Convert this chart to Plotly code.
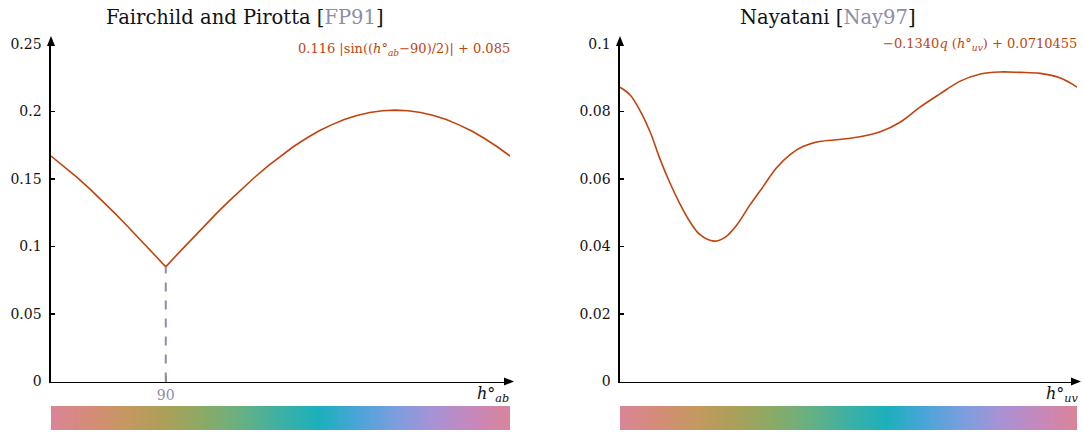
import plotly.graph_objects as go

# ---------------- data ----------------
fp_hue = [0, 10, 20, 30, 40, 50, 60, 70, 80, 90, 100, 110, 120, 130, 140, 150, 160, 170, 180,
          190, 200, 210, 220, 230, 240, 250, 260, 270, 280, 290, 300, 310, 320, 330, 340, 350, 360]
fp_val = [0.1670, 0.1596, 0.1515, 0.1430, 0.1340, 0.1247, 0.1150, 0.1051, 0.0951, 0.0850,
          0.0951, 0.1051, 0.1150, 0.1247, 0.1340, 0.1430, 0.1515, 0.1596, 0.1670,
          0.1739, 0.1800, 0.1855, 0.1901, 0.1940, 0.1970, 0.1992, 0.2006, 0.2010,
          0.2006, 0.1992, 0.1970, 0.1940, 0.1901, 0.1855, 0.1800, 0.1739, 0.1670]

ny_hue = [0, 8, 16, 24, 31, 39, 47, 55, 63, 74, 83, 92, 102, 113, 123, 134, 144, 157, 173,
          189, 205, 221, 236, 252, 268, 284, 299, 315, 331, 347, 360]
ny_val = [0.0872, 0.0849, 0.0801, 0.0737, 0.0664, 0.0591, 0.0528, 0.0474, 0.0435, 0.0416,
          0.0428, 0.0464, 0.0521, 0.0579, 0.0632, 0.0672, 0.0696, 0.0711, 0.0717,
          0.0725, 0.0740, 0.0769, 0.0812, 0.0852, 0.0890, 0.0911, 0.0917, 0.0916,
          0.0913, 0.0899, 0.0872]

fp_yticks = [0, 0.05, 0.1, 0.15, 0.2, 0.25]
fp_yticklabels = ["0", "0.05", "0.1", "0.15", "0.2", "0.25"]
ny_yticks = [0, 0.02, 0.04, 0.06, 0.08, 0.1]
ny_yticklabels = ["0", "0.02", "0.04", "0.06", "0.08", "0.1"]

marker_hue = 90
bar_hues = list(range(0, 361, 2))

# colour strip (hue -> colour)
strip_stops = [0, 30, 60, 90, 120, 150, 180, 210, 240, 270, 300, 330, 360]
strip_colors = ["#da8498", "#d48c78", "#c49860", "#aaa05a", "#8aaa66", "#66b084", "#3cb0a4",
                "#1cb0bc", "#4aa4d8", "#7c9ede", "#a892d4", "#c688bc", "#da8498"]

# ---------------- style ----------------
W, H = 1083, 432
LINE = "#c1440e"
GREY = "#8c8cab"
FONT = "DejaVu Serif"


def px(x):
    return x / W


def py(y):
    return 1 - y / H


colorscale = [[s / 360, c] for s, c in zip(strip_stops, strip_colors)]

fig = go.Figure()

fig.add_trace(go.Scatter(x=fp_hue, y=fp_val, mode="lines", line=dict(color=LINE, width=1.6),
                         xaxis="x", yaxis="y", showlegend=False, hoverinfo="skip"))
fig.add_trace(go.Scatter(x=[marker_hue, marker_hue], y=[0, min(fp_val)], mode="lines",
                         line=dict(color=GREY, width=2, dash="dash"),
                         xaxis="x", yaxis="y", showlegend=False, hoverinfo="skip"))
fig.add_trace(go.Scatter(x=ny_hue, y=ny_val, mode="lines",
                         line=dict(color=LINE, width=1.6, shape="spline", smoothing=1.0),
                         xaxis="x2", yaxis="y2", showlegend=False, hoverinfo="skip"))

fig.add_trace(go.Heatmap(z=[bar_hues], x=bar_hues, y=[0], colorscale=colorscale, zmin=0, zmax=360,
                         showscale=False, xaxis="x3", yaxis="y3", hoverinfo="skip"))
fig.add_trace(go.Heatmap(z=[bar_hues], x=bar_hues, y=[0], colorscale=colorscale, zmin=0, zmax=360,
                         showscale=False, xaxis="x4", yaxis="y4", hoverinfo="skip"))

L0, L1 = 51, 510
R0, R1 = 620, 1077
YT, YB = 44, 381.5
BT, BB = 406, 430

tickfont = dict(family=FONT, size=14, color="#111")
common_y = dict(showgrid=False, zeroline=False, showline=True, linecolor="black", linewidth=1.6,
                ticks="inside", ticklen=4, tickwidth=1.2, tickcolor="black", tickfont=tickfont,
                ticklabelstandoff=5, automargin=False)

fig.update_layout(
    template="none",
    width=W, height=H, margin=dict(l=0, r=0, t=0, b=0, pad=0, autoexpand=False),
    paper_bgcolor="white", plot_bgcolor="white",
    xaxis=dict(domain=[px(L0), px(L1)], range=[0, 360], anchor="y", showgrid=False, zeroline=False,
               showline=True, linecolor="black", linewidth=1.6, automargin=False,
               tickvals=[marker_hue], ticktext=[str(marker_hue)], ticks="inside", ticklen=6,
               tickwidth=2, tickcolor=GREY, tickfont=dict(family=FONT, size=14, color=GREY)),
    yaxis=dict(domain=[py(YB), py(YT)], range=[0, 0.25], anchor="x",
               tickvals=fp_yticks, ticktext=fp_yticklabels, **common_y),
    xaxis2=dict(domain=[px(R0), px(R1)], range=[0, 360], anchor="y2", showgrid=False, zeroline=False,
                showline=True, linecolor="black", linewidth=1.6, showticklabels=False, ticks="",
                automargin=False),
    yaxis2=dict(domain=[py(YB), py(YT)], range=[0, 0.1], anchor="x2",
                tickvals=ny_yticks, ticktext=ny_yticklabels, **common_y),
    xaxis3=dict(domain=[px(L0), px(L1)], range=[0, 360], anchor="y3", visible=False, automargin=False),
    yaxis3=dict(domain=[py(BB), py(BT)], range=[-0.5, 0.5], anchor="x3", visible=False, automargin=False),
    xaxis4=dict(domain=[px(R0), px(R1)], range=[0, 360], anchor="y4", visible=False, automargin=False),
    yaxis4=dict(domain=[py(BB), py(BT)], range=[-0.5, 0.5], anchor="x4", visible=False, automargin=False),
)

# arrow heads
shapes = []
for x0, x1 in [(L0, L1), (R0, R1)]:
    tip = x1 + 4
    shapes.append(dict(type="path", xref="paper", yref="paper",
                       path=f"M {px(tip - 10)},{py(YB - 4)} L {px(tip)},{py(YB)} L {px(tip - 10)},{py(YB + 4)} Z",
                       fillcolor="black", line=dict(width=0)))
    tipy = YT - 8
    shapes.append(dict(type="path", xref="paper", yref="paper",
                       path=f"M {px(x0 - 4)},{py(tipy + 10)} L {px(x0)},{py(tipy)} L {px(x0 + 4)},{py(tipy + 10)} Z",
                       fillcolor="black", line=dict(width=0)))
fig.update_layout(shapes=shapes)


def note(x, y, text, size, color="#111", xanchor="center"):
    return dict(x=px(x), y=py(y), xref="paper", yref="paper", showarrow=False,
                xanchor=xanchor, yanchor="middle", text=text,
                font=dict(family=FONT, size=size, color=color))


ann = [
    note(245, 18, f"Fairchild and Pirotta [<span style='color:{GREY}'>FP91</span>]", 19.5),
    note(828, 18, f"Nayatani [<span style='color:{GREY}'>Nay97</span>]", 19.5),
    note(512, 50, "0.116 |sin((<i>h</i>°<sub><i>ab</i></sub>−90)/2)| + 0.085", 13, LINE, "right"),
    note(1079, 45, "−0.1340<i>q</i> (<i>h</i>°<sub><i>uv</i></sub>) + 0.0710455", 13, LINE, "right"),
    note(511, 394, "<i>h</i>°<sub><i>ab</i></sub>", 16, xanchor="right"),
    note(1081, 394, "<i>h</i>°<sub><i>uv</i></sub>", 16, xanchor="right"),
]
fig.update_layout(annotations=ann)

fig.write_html("out.html", config={"displayModeBar": False, "staticPlot": True},
               post_script="document.body.style.margin='0';document.body.style.overflow='hidden';")
